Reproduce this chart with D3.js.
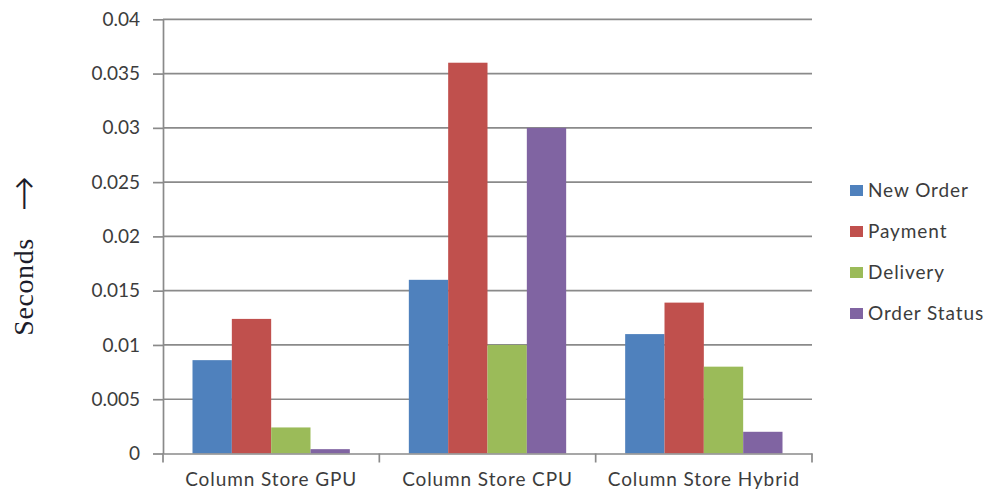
<!DOCTYPE html>
<html>
<head>
<meta charset="utf-8">
<script src="https://cdn.jsdelivr.net/npm/d3@7"></script>
<style>
  html, body { margin: 0; padding: 0; background: #fff; }
  svg { display: block; }
</style>
</head>
<body>
<svg id="chart" width="987" height="494"></svg>
<script>
// Transaction timings per storage configuration
const categories = ["Column Store GPU", "Column Store CPU", "Column Store Hybrid"];
const seriesNames = ["New Order", "Payment", "Delivery", "Order Status"];
const newOrder    = [0.0086, 0.016, 0.011];
const payment     = [0.0124, 0.036, 0.0139];
const delivery    = [0.0024, 0.010, 0.008];
const orderStatus = [0.0004, 0.030, 0.002];
const yTicks = [0, 0.005, 0.01, 0.015, 0.02, 0.025, 0.03, 0.035, 0.04];
const tickLabels = ["0", "0.005", "0.01", "0.015", "0.02", "0.025", "0.03", "0.035", "0.04"];
const colors = ["#4F81BD", "#C0504D", "#9BBB59", "#8064A2"];

const seriesValues = [newOrder, payment, delivery, orderStatus];

const svg = d3.select("#chart");
const plotLeft = 163, plotRight = 812, plotTop = 19.3, plotBottom = 453.5;

const x = d3.scaleBand().domain(categories).range([plotLeft, plotRight]).paddingInner(0).paddingOuter(0);
// gap width of 150%: group = 4 bars, gap = 1.5 bars
const xInner = d3.scaleBand().domain(seriesNames)
  .range([0, x.bandwidth()]).paddingInner(0).paddingOuter(0.75);
const y = d3.scaleLinear().domain([0, 0.04]).range([plotBottom, plotTop]);

const gridColor = "#8a8a8a";
const textColor = "#3c3c3c";
const labelFont = "Lato, 'Open Sans', sans-serif";

// horizontal gridlines
svg.append("g").selectAll("line").data(yTicks.slice(1)).join("line")
  .attr("x1", plotLeft).attr("x2", plotRight)
  .attr("y1", d => y(d)).attr("y2", d => y(d))
  .attr("stroke", gridColor).attr("stroke-width", 1.7);

// y axis
const yAxis = svg.append("g").attr("transform", `translate(${plotLeft},0)`)
  .call(d3.axisLeft(y).tickValues(yTicks).tickSize(10).tickSizeOuter(0)
    .tickFormat((d, i) => tickLabels[i]));
yAxis.select(".domain").attr("stroke", gridColor).attr("stroke-width", 1.7);
yAxis.selectAll(".tick line").attr("stroke", gridColor).attr("stroke-width", 1.7);
yAxis.selectAll(".tick text")
  .attr("x", -23)
  .attr("fill", textColor)
  .style("font-family", labelFont)
  .style("font-size", "19px");

// bars
const groups = svg.append("g").selectAll("g").data(categories).join("g")
  .attr("transform", d => `translate(${x(d)},0)`);
groups.selectAll("rect")
  .data((c, ci) => seriesNames.map((s, si) => ({ s, si, v: seriesValues[si][ci] })))
  .join("rect")
  .attr("x", d => xInner(d.s))
  .attr("width", xInner.bandwidth())
  .attr("y", d => y(d.v))
  .attr("height", d => y(0) - y(d.v))
  .attr("fill", d => colors[d.si]);

// x axis
const xAxis = svg.append("g").attr("transform", `translate(0,${plotBottom})`)
  .call(d3.axisBottom(x).tickSize(0).tickPadding(19));
xAxis.select(".domain").attr("stroke", gridColor).attr("stroke-width", 1.7);
xAxis.selectAll(".tick text")
  .attr("fill", textColor)
  .style("font-family", labelFont)
  .style("font-size", "19px")
  .style("letter-spacing", "0.9px");
// category boundary tick marks
svg.append("g").selectAll("line")
  .data(categories.map(c => x(c)).concat([plotRight]))
  .join("line")
  .attr("x1", d => d).attr("x2", d => d)
  .attr("y1", plotBottom).attr("y2", plotBottom + 9)
  .attr("stroke", gridColor).attr("stroke-width", 1.7);

// y-axis title with its arrow
svg.append("text")
  .attr("transform", "translate(33,287) rotate(-90)")
  .attr("text-anchor", "middle")
  .attr("fill", "#1c1c2a")
  .style("font-family", "'Liberation Serif', 'DejaVu Serif', serif")
  .style("font-size", "28px")
  .style("letter-spacing", "0.6px")
  .text("Seconds");
svg.append("text")
  .attr("x", 24).attr("y", 192)
  .attr("text-anchor", "middle")
  .attr("dominant-baseline", "central")
  .attr("fill", "#1c1c2a")
  .style("font-family", "'Noto Sans', 'DejaVu Sans', sans-serif")
  .style("font-size", "42px")
  .style("font-weight", "300")
  .text("\u2191");

// legend
const legend = svg.append("g").attr("transform", "translate(850,190)");
const items = legend.selectAll("g").data(seriesNames).join("g")
  .attr("transform", (d, i) => `translate(0,${i * 41})`);
items.append("rect")
  .attr("x", 0).attr("y", -5).attr("width", 13).attr("height", 11)
  .attr("fill", (d, i) => colors[i]);
items.append("text")
  .attr("x", 18).attr("dy", "0.35em")
  .attr("fill", textColor)
  .style("font-family", labelFont)
  .style("font-size", "19px")
  .style("letter-spacing", "0.9px")
  .text(d => d);
</script>
</body>
</html>
